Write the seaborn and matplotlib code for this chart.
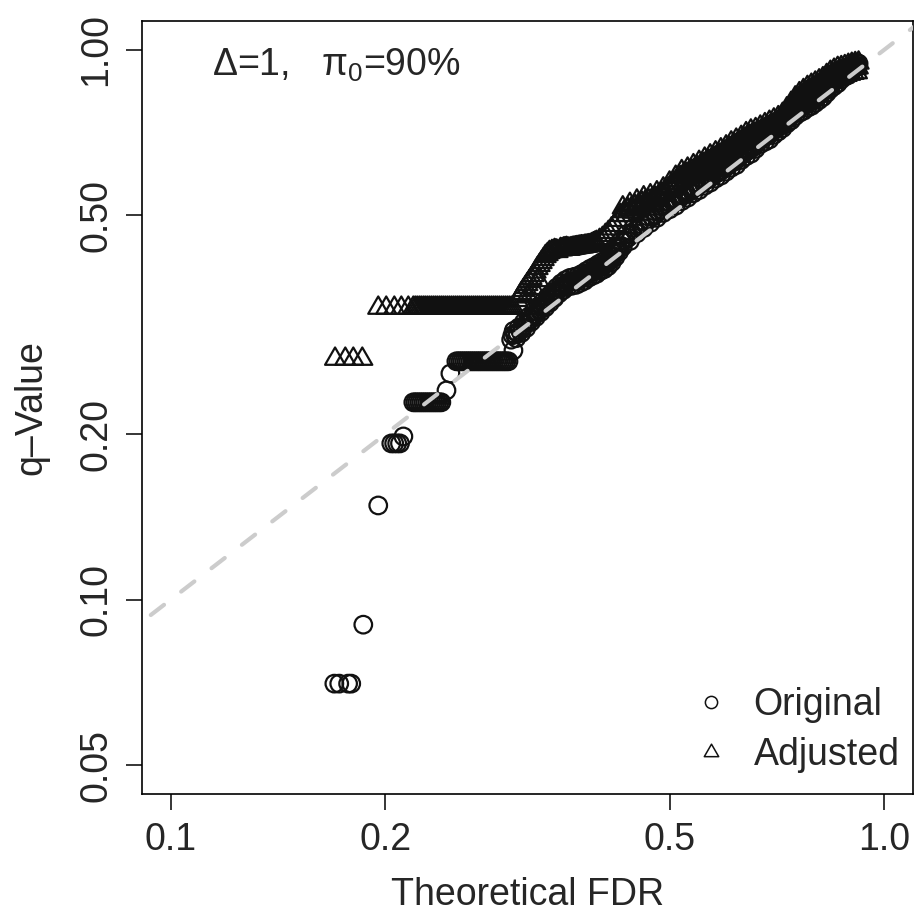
import numpy as np
import pandas as pd
import matplotlib
matplotlib.use("Agg")
import matplotlib.pyplot as plt
import seaborn as sns
from matplotlib.path import Path
from matplotlib.lines import Line2D
from matplotlib.ticker import NullLocator

# ---------------- data ----------------
series_names = ["Original", "Adjusted"]
x_ticks = [0.1, 0.2, 0.5, 1.0]
x_tick_labels = ["0.1", "0.2", "0.5", "1.0"]
y_ticks = [0.05, 0.10, 0.20, 0.50, 1.00]
y_tick_labels = ["0.05", "0.10", "0.20", "0.50", "1.00"]
x_label = "Theoretical FDR"
y_label = "q\u2013Value"
annotation = r"$\Delta$=1,   $\pi_0$=90%"

# ---- Original: isolated points and tied runs at small FDR ----
orig_fdr_sparse = [0.1696, 0.1723, 0.1773, 0.1791, 0.1862, 0.1954,
                   0.2038, 0.2057, 0.2077, 0.2096, 0.2119,
                   0.2188, 0.2202, 0.2216, 0.2231, 0.2245, 0.2260, 0.2274, 0.2289,
                   0.2304, 0.2319, 0.2334, 0.2349, 0.2364, 0.2380, 0.2395,
                   0.2435, 0.2466,
                   0.2514, 0.2530, 0.2547, 0.2563, 0.2580, 0.2597, 0.2613, 0.2630,
                   0.2647, 0.2664, 0.2682, 0.2699, 0.2716, 0.2734, 0.2752, 0.2770,
                   0.2788, 0.2806, 0.2824, 0.2842, 0.2861, 0.2879, 0.2898, 0.2917,
                   0.2935, 0.2954, 0.2974, 0.3022]
orig_q_sparse = [0.0704, 0.0704, 0.0704, 0.0704, 0.0901, 0.1484,
                 0.1924, 0.1924, 0.1924, 0.1924, 0.1981,
                 0.2285, 0.2285, 0.2285, 0.2285, 0.2285, 0.2285, 0.2285, 0.2285,
                 0.2285, 0.2285, 0.2285, 0.2285, 0.2285, 0.2285, 0.2285,
                 0.2402, 0.2578,
                 0.2713, 0.2713, 0.2713, 0.2713, 0.2713, 0.2713, 0.2713, 0.2713,
                 0.2713, 0.2713, 0.2713, 0.2713, 0.2713, 0.2713, 0.2713, 0.2713,
                 0.2713, 0.2713, 0.2713, 0.2713, 0.2713, 0.2713, 0.2713, 0.2713,
                 0.2713, 0.2713, 0.2713, 0.2840]

# ---- Original: dense band, lower edge ----
orig_fdr_band_a = [0.300, 0.305, 0.310, 0.315, 0.320, 0.325, 0.330, 0.335, 0.340, 0.345,
                   0.350, 0.355, 0.360, 0.365, 0.370, 0.375, 0.380, 0.385, 0.390, 0.395,
                   0.400, 0.405, 0.410, 0.415, 0.420, 0.425,
                   0.43, 0.44, 0.45, 0.46, 0.47, 0.48, 0.49, 0.50, 0.51, 0.52,
                   0.53, 0.54, 0.55, 0.56, 0.57, 0.58, 0.59, 0.60, 0.61, 0.62,
                   0.63, 0.64, 0.65, 0.66, 0.67, 0.68, 0.69, 0.70, 0.71, 0.72,
                   0.73, 0.74, 0.75, 0.76, 0.77, 0.78, 0.79, 0.80, 0.81, 0.82,
                   0.83, 0.84, 0.85, 0.86, 0.87, 0.88, 0.89, 0.90, 0.91, 0.92]
orig_q_band_a = [0.2970, 0.2989, 0.3054, 0.3119, 0.3200, 0.3266, 0.3333, 0.3400, 0.3468, 0.3536,
                 0.3605, 0.3657, 0.3708, 0.3723, 0.3737, 0.3769, 0.3800, 0.3850, 0.3881, 0.3911,
                 0.3960, 0.3989, 0.4039, 0.4109, 0.4200, 0.4293,
                 0.4386, 0.4488, 0.4635, 0.4738, 0.4841, 0.4944, 0.5047, 0.5125, 0.5202, 0.5304,
                 0.5380, 0.5481, 0.5555, 0.5656, 0.5729, 0.5829, 0.5900, 0.6000, 0.6100, 0.6169,
                 0.6300, 0.6400, 0.6468, 0.6600, 0.6734, 0.6800, 0.6866, 0.7000, 0.7100, 0.7200,
                 0.7337, 0.7437, 0.7575, 0.7676, 0.7739, 0.7839, 0.7900, 0.8000, 0.8100, 0.8200,
                 0.8342, 0.8484, 0.8585, 0.8686, 0.8831, 0.8932, 0.8989, 0.9135, 0.9282, 0.9430]

# ---- Original: dense band, upper edge ----
orig_fdr_band_b = [0.3025, 0.3075, 0.3125, 0.3175, 0.3225, 0.3275, 0.3325, 0.3375, 0.3425, 0.3475,
                   0.3525, 0.3575, 0.3625, 0.3675, 0.3725, 0.3775, 0.3825, 0.3875, 0.3925, 0.3975,
                   0.4025, 0.4075, 0.4125, 0.4175, 0.4225, 0.4275,
                   0.435, 0.445, 0.455, 0.465, 0.475, 0.485, 0.495, 0.505, 0.515, 0.525,
                   0.535, 0.545, 0.555, 0.565, 0.575, 0.585, 0.595, 0.605, 0.615, 0.625,
                   0.635, 0.645, 0.655, 0.665, 0.675, 0.685, 0.695, 0.705, 0.715, 0.725,
                   0.735, 0.745, 0.755, 0.765, 0.775, 0.785, 0.795, 0.805, 0.815, 0.825,
                   0.835, 0.845, 0.855, 0.865, 0.875, 0.885, 0.895, 0.905, 0.915]
orig_q_band_b = [0.3083, 0.3125, 0.3194, 0.3270, 0.3344, 0.3413, 0.3482, 0.3553, 0.3624, 0.3694,
                 0.3758, 0.3811, 0.3846, 0.3862, 0.3882, 0.3915, 0.3959, 0.3999, 0.4031, 0.4074,
                 0.4113, 0.4152, 0.4216, 0.4300, 0.4394, 0.4489,
                 0.4615, 0.4744, 0.4873, 0.4980, 0.5087, 0.5194, 0.5290, 0.5370, 0.5463, 0.5556,
                 0.5647, 0.5739, 0.5830, 0.5920, 0.6010, 0.6099, 0.6188, 0.6292, 0.6380, 0.6484,
                 0.6604, 0.6691, 0.6795, 0.6933, 0.7038, 0.7106, 0.7210, 0.7332, 0.7436, 0.7559,
                 0.7682, 0.7806, 0.7931, 0.8016, 0.8100, 0.8184, 0.8268, 0.8372, 0.8476, 0.8601,
                 0.8749, 0.8876, 0.8981, 0.9108, 0.9237, 0.9250, 0.9320, 0.9400, 0.9450]

# ---- Original: dense band, middle (first set) ----
orig_fdr_band_c = [0.30125, 0.30625, 0.31125, 0.31625, 0.32125, 0.32625, 0.33125, 0.33625,
                   0.34125, 0.34625, 0.35125, 0.35625, 0.36125, 0.36625, 0.37125, 0.37625,
                   0.38125, 0.38625, 0.39125, 0.39625, 0.40125, 0.40625, 0.41125, 0.41625,
                   0.42125, 0.42625,
                   0.4325, 0.4425, 0.4525, 0.4625, 0.4725, 0.4825, 0.4925, 0.5025, 0.5125, 0.5225,
                   0.5325, 0.5425, 0.5525, 0.5625, 0.5725, 0.5825, 0.5925, 0.6025, 0.6125, 0.6225,
                   0.6325, 0.6425, 0.6525, 0.6625, 0.6725, 0.6825, 0.6925, 0.7025, 0.7125, 0.7225,
                   0.7325, 0.7425, 0.7525, 0.7625, 0.7725, 0.7825, 0.7925, 0.8025, 0.8125, 0.8225,
                   0.8325, 0.8425, 0.8525, 0.8625, 0.8725, 0.8825, 0.8925, 0.9025, 0.9125]
orig_q_band_c = [0.3027, 0.3057, 0.3124, 0.3195, 0.3272, 0.3340, 0.3408, 0.3477,
                 0.3546, 0.3615, 0.3682, 0.3734, 0.3777, 0.3793, 0.3810, 0.3842,
                 0.3880, 0.3925, 0.3956, 0.3993, 0.4037, 0.4071, 0.4128, 0.4205,
                 0.4297, 0.4391,
                 0.4501, 0.4616, 0.4754, 0.4859, 0.4964, 0.5069, 0.5169, 0.5248, 0.5333, 0.5430,
                 0.5514, 0.5610, 0.5693, 0.5788, 0.5870, 0.5964, 0.6044, 0.6146, 0.6240, 0.6327,
                 0.6452, 0.6546, 0.6632, 0.6767, 0.6886, 0.6953, 0.7038, 0.7166, 0.7268, 0.7380,
                 0.7510, 0.7622, 0.7753, 0.7846, 0.7920, 0.8012, 0.8084, 0.8186, 0.8288, 0.8401,
                 0.8546, 0.8680, 0.8783, 0.8897, 0.9034, 0.9091, 0.9155, 0.9268, 0.9366]

# ---- Original: dense band, middle (second set) ----
orig_fdr_band_d = [0.30375, 0.30875, 0.31375, 0.31875, 0.32375, 0.32875, 0.33375, 0.33875,
                   0.34375, 0.34875, 0.35375, 0.35875, 0.36375, 0.36875, 0.37375, 0.37875,
                   0.38375, 0.38875, 0.39375, 0.39875, 0.40375, 0.40875, 0.41375, 0.41875,
                   0.42375,
                   0.4375, 0.4475, 0.4575, 0.4675, 0.4775, 0.4875, 0.4975, 0.5075, 0.5175, 0.5275,
                   0.5375, 0.5475, 0.5575, 0.5675, 0.5775, 0.5875, 0.5975, 0.6075, 0.6175, 0.6275,
                   0.6375, 0.6475, 0.6575, 0.6675, 0.6775, 0.6875, 0.6975, 0.7075, 0.7175, 0.7275,
                   0.7375, 0.7475, 0.7575, 0.7675, 0.7775, 0.7875, 0.7975, 0.8075, 0.8175, 0.8275,
                   0.8375, 0.8475, 0.8575, 0.8675, 0.8775, 0.8875, 0.8975, 0.9075, 0.9175]
orig_q_band_d = [0.3036, 0.3090, 0.3157, 0.3235, 0.3305, 0.3373, 0.3441, 0.3511,
                 0.3580, 0.3650, 0.3708, 0.3760, 0.3785, 0.3800, 0.3826, 0.3858,
                 0.3905, 0.3940, 0.3971, 0.4017, 0.4051, 0.4096, 0.4163, 0.4250,
                 0.4344,
                 0.4552, 0.4690, 0.4806, 0.4911, 0.5016, 0.5121, 0.5208, 0.5286, 0.5384, 0.5468,
                 0.5564, 0.5647, 0.5743, 0.5825, 0.5920, 0.6000, 0.6094, 0.6196, 0.6275, 0.6392,
                 0.6502, 0.6580, 0.6698, 0.6834, 0.6919, 0.6986, 0.7105, 0.7216, 0.7318, 0.7448,
                 0.7560, 0.7691, 0.7804, 0.7878, 0.7970, 0.8042, 0.8134, 0.8236, 0.8338, 0.8472,
                 0.8617, 0.8731, 0.8834, 0.8970, 0.9085, 0.9120, 0.9228, 0.9341, 0.9440]

# ---- Adjusted: tied runs at small FDR ----
adj_fdr_ties = [0.1700, 0.1757, 0.1803, 0.1856,
                0.1954, 0.2005, 0.2058, 0.2105, 0.2153,
                0.2188, 0.2202, 0.2216, 0.2231, 0.2245, 0.2260, 0.2274, 0.2289, 0.2304, 0.2319,
                0.2334, 0.2349, 0.2364, 0.2380, 0.2395, 0.2410, 0.2426, 0.2442, 0.2458, 0.2474,
                0.2490, 0.2506, 0.2522, 0.2538, 0.2554, 0.2571, 0.2588, 0.2605, 0.2622, 0.2639,
                0.2656, 0.2673, 0.2690, 0.2707, 0.2725, 0.2743, 0.2761, 0.2779, 0.2797, 0.2815,
                0.2833, 0.2851, 0.2869, 0.2888, 0.2907, 0.2926, 0.2945, 0.2964, 0.2983, 0.3002,
                0.3022]
adj_q_ties = [0.2739, 0.2739, 0.2739, 0.2739,
              0.3391, 0.3391, 0.3391, 0.3391, 0.3391,
              0.3391, 0.3391, 0.3391, 0.3391, 0.3391, 0.3391, 0.3391, 0.3391, 0.3391, 0.3391,
              0.3391, 0.3391, 0.3391, 0.3391, 0.3391, 0.3391, 0.3391, 0.3391, 0.3391, 0.3391,
              0.3391, 0.3391, 0.3391, 0.3391, 0.3391, 0.3391, 0.3391, 0.3391, 0.3391, 0.3391,
              0.3391, 0.3391, 0.3391, 0.3391, 0.3391, 0.3391, 0.3391, 0.3391, 0.3391, 0.3391,
              0.3391, 0.3391, 0.3391, 0.3391, 0.3391, 0.3391, 0.3391, 0.3391, 0.3391, 0.3391,
              0.3391]

# ---- Adjusted: rising branch and shoulder ----
adj_fdr_rise = [0.3062, 0.3082, 0.3101, 0.3121, 0.3141, 0.3161, 0.3162, 0.3182, 0.3203, 0.3224,
                0.3224, 0.3245, 0.3266, 0.3276, 0.3288, 0.3309, 0.3331, 0.3352, 0.3374, 0.3395,
                0.3422, 0.3450, 0.3467, 0.3484, 0.3518, 0.3535, 0.3552, 0.3570, 0.3587, 0.3604,
                0.3621, 0.3639, 0.3656, 0.3673, 0.3691, 0.3709, 0.3727, 0.3745, 0.3763, 0.3781,
                0.3800, 0.3818, 0.3837, 0.3855, 0.3874, 0.3893, 0.3912, 0.3931, 0.3950, 0.3990,
                0.4029, 0.4067, 0.4106, 0.4147, 0.4188, 0.4228, 0.4268]
adj_q_rise = [0.3503, 0.3555, 0.3607, 0.3652, 0.3698, 0.3745, 0.3577, 0.3792, 0.3840, 0.3888,
              0.3684, 0.3946, 0.4004, 0.3807, 0.4055, 0.4106, 0.4158, 0.4210, 0.4245, 0.4281,
              0.4299, 0.4317, 0.4310, 0.4300, 0.4335, 0.4330, 0.4345, 0.4350, 0.4355, 0.4345,
              0.4340, 0.4350, 0.4355, 0.4360, 0.4365, 0.4370, 0.4374, 0.4380, 0.4385, 0.4383,
              0.4392, 0.4396, 0.4400, 0.4405, 0.4410, 0.4425, 0.4440, 0.4453, 0.4466, 0.4503,
              0.4541, 0.4599, 0.4657, 0.4726, 0.4795, 0.4897, 0.5000]

# ---- Adjusted: dense band, upper edge ----
adj_fdr_band_a = [0.43, 0.44, 0.45, 0.46, 0.47, 0.48, 0.49, 0.50, 0.51, 0.52,
                  0.53, 0.54, 0.55, 0.56, 0.57, 0.58, 0.59, 0.60, 0.61, 0.62,
                  0.63, 0.64, 0.65, 0.66, 0.67, 0.68, 0.69, 0.70, 0.71, 0.72,
                  0.73, 0.74, 0.75, 0.76, 0.77, 0.78, 0.79, 0.80, 0.81, 0.82,
                  0.83, 0.84, 0.85, 0.86, 0.87, 0.88, 0.89, 0.90, 0.91, 0.92]
adj_q_band_a = [0.5160, 0.5236, 0.5310, 0.5382, 0.5429, 0.5496, 0.5586, 0.5725, 0.5865, 0.6006,
                0.6069, 0.6156, 0.6243, 0.6328, 0.6413, 0.6496, 0.6579, 0.6660, 0.6771, 0.6851,
                0.6930, 0.7040, 0.7118, 0.7161, 0.7236, 0.7310, 0.7383, 0.7455, 0.7526, 0.7632,
                0.7811, 0.7992, 0.8175, 0.8322, 0.8432, 0.8541, 0.8620, 0.8700, 0.8780, 0.8860,
                0.8980, 0.9100, 0.9180, 0.9250, 0.9280, 0.9320, 0.9370, 0.9410, 0.9440, 0.9460]

# ---- Adjusted: dense band, lower edge ----
adj_fdr_band_b = [0.435, 0.445, 0.455, 0.465, 0.475, 0.485, 0.495, 0.505, 0.515, 0.525,
                  0.535, 0.545, 0.555, 0.565, 0.575, 0.585, 0.595, 0.605, 0.615, 0.625,
                  0.635, 0.645, 0.655, 0.665, 0.675, 0.685, 0.695, 0.705, 0.715, 0.725,
                  0.735, 0.745, 0.755, 0.765, 0.775, 0.785, 0.795, 0.805, 0.815, 0.825,
                  0.835, 0.845, 0.855, 0.865, 0.875, 0.885, 0.895, 0.905, 0.915]
adj_q_band_b = [0.4998, 0.5070, 0.5140, 0.5198, 0.5252, 0.5328, 0.5438, 0.5572, 0.5707, 0.5805,
                0.5877, 0.5961, 0.6044, 0.6126, 0.6206, 0.6286, 0.6365, 0.6457, 0.6549, 0.6626,
                0.6716, 0.6807, 0.6865, 0.6922, 0.6993, 0.7064, 0.7134, 0.7203, 0.7288, 0.7425,
                0.7598, 0.7773, 0.7931, 0.8055, 0.8160, 0.8250, 0.8327, 0.8404, 0.8481, 0.8577,
                0.8692, 0.8788, 0.8861, 0.8909, 0.8942, 0.8986, 0.9029, 0.9063, 0.9087]

# ---- Adjusted: dense band, middle (first set) ----
adj_fdr_band_c = [0.4325, 0.4425, 0.4525, 0.4625, 0.4725, 0.4825, 0.4925, 0.5025, 0.5125, 0.5225,
                  0.5325, 0.5425, 0.5525, 0.5625, 0.5725, 0.5825, 0.5925, 0.6025, 0.6125, 0.6225,
                  0.6325, 0.6425, 0.6525, 0.6625, 0.6725, 0.6825, 0.6925, 0.7025, 0.7125, 0.7225,
                  0.7325, 0.7425, 0.7525, 0.7625, 0.7725, 0.7825, 0.7925, 0.8025, 0.8125, 0.8225,
                  0.8325, 0.8425, 0.8525, 0.8625, 0.8725, 0.8825, 0.8925, 0.9025, 0.9125]
adj_q_band_c = [0.5079, 0.5153, 0.5225, 0.5290, 0.5341, 0.5412, 0.5512, 0.5649, 0.5786, 0.5906,
                0.5973, 0.6059, 0.6144, 0.6227, 0.6310, 0.6391, 0.6472, 0.6559, 0.6660, 0.6739,
                0.6823, 0.6924, 0.6992, 0.7042, 0.7115, 0.7187, 0.7259, 0.7329, 0.7407, 0.7529,
                0.7705, 0.7883, 0.8053, 0.8189, 0.8296, 0.8396, 0.8474, 0.8552, 0.8631, 0.8719,
                0.8836, 0.8944, 0.9021, 0.9080, 0.9111, 0.9153, 0.9200, 0.9237, 0.9264]

# ---- Adjusted: dense band, middle (second set) ----
adj_fdr_band_d = [0.4375, 0.4475, 0.4575, 0.4675, 0.4775, 0.4875, 0.4975, 0.5075, 0.5175, 0.5275,
                  0.5375, 0.5475, 0.5575, 0.5675, 0.5775, 0.5875, 0.5975, 0.6075, 0.6175, 0.6275,
                  0.6375, 0.6475, 0.6575, 0.6675, 0.6775, 0.6875, 0.6975, 0.7075, 0.7175, 0.7275,
                  0.7375, 0.7475, 0.7575, 0.7675, 0.7775, 0.7875, 0.7975, 0.8075, 0.8175, 0.8275,
                  0.8375, 0.8475, 0.8575, 0.8675, 0.8775, 0.8875, 0.8975, 0.9075, 0.9175]
adj_q_band_d = [0.5117, 0.5190, 0.5261, 0.5314, 0.5374, 0.5457, 0.5582, 0.5719, 0.5857, 0.5937,
                0.6017, 0.6102, 0.6186, 0.6270, 0.6351, 0.6433, 0.6513, 0.6614, 0.6700, 0.6778,
                0.6878, 0.6963, 0.7013, 0.7079, 0.7152, 0.7224, 0.7295, 0.7365, 0.7460, 0.7618,
                0.7795, 0.7974, 0.8127, 0.8244, 0.8351, 0.8435, 0.8514, 0.8592, 0.8671, 0.8779,
                0.8896, 0.8984, 0.9056, 0.9095, 0.9131, 0.9178, 0.9220, 0.9252, 0.9274]

# ---------------- plotting ----------------
sns.set_style("white")
plt.rcParams["font.family"] = ["Liberation Sans", "DejaVu Sans"]
plt.rcParams["mathtext.fontset"] = "custom"
plt.rcParams["mathtext.rm"] = "Liberation Sans"
plt.rcParams["mathtext.it"] = "Liberation Sans"
plt.rcParams["mathtext.sf"] = "Liberation Sans"

W = 916.0
fig = plt.figure(figsize=(9.16, 9.16), dpi=100)
ax = fig.add_axes([142 / W, 1 - 794 / W, 771 / W, 773 / W])

df_orig = pd.DataFrame({
    "fdr": orig_fdr_sparse + orig_fdr_band_a + orig_fdr_band_b + orig_fdr_band_c + orig_fdr_band_d,
    "q": orig_q_sparse + orig_q_band_a + orig_q_band_b + orig_q_band_c + orig_q_band_d,
})
df_adj = pd.DataFrame({
    "fdr": adj_fdr_ties + adj_fdr_rise + adj_fdr_band_a + adj_fdr_band_b + adj_fdr_band_c + adj_fdr_band_d,
    "q": adj_q_ties + adj_q_rise + adj_q_band_a + adj_q_band_b + adj_q_band_c + adj_q_band_d,
})

tri = Path([(0, 1), (-0.8660254, -0.5), (0.8660254, -0.5), (0, 1)],
           [Path.MOVETO, Path.LINETO, Path.LINETO, Path.CLOSEPOLY])

ink = "#111111"
sns.scatterplot(data=df_orig, x="fdr", y="q", marker="o", s=160,
                facecolor="none", edgecolor=ink, linewidth=1.6,
                ax=ax, legend=False, zorder=2)
sns.scatterplot(data=df_adj, x="fdr", y="q", marker=tri, s=277,
                facecolor="none", edgecolor=ink, linewidth=1.6,
                ax=ax, legend=False, zorder=3)

ax.set_xscale("log")
ax.set_yscale("log")
ax.set_xlim(10 ** -1.04, 10 ** 0.04)
ax.set_ylim(10 ** (np.log10(0.05) - 0.052), 10 ** 0.052)

# identity reference line
diag = [0.01, 2.0]
ln, = ax.plot(diag, diag, color="#cccccc", lw=3.0, zorder=5,
              dash_capstyle="round", solid_capstyle="round")
ln.set_dashes((4.0, 5.2))

ax.set_xticks(x_ticks)
ax.set_xticklabels(x_tick_labels)
ax.set_yticks(y_ticks)
ax.set_yticklabels(y_tick_labels)
ax.xaxis.set_minor_locator(NullLocator())
ax.yaxis.set_minor_locator(NullLocator())
ax.tick_params(axis="both", which="major", direction="out", length=11.5,
               width=1.1, color="black", labelsize=27, pad=8.5,
               bottom=True, left=True, top=False, right=False)
ax.tick_params(axis="y", labelrotation=90)
for lbl in ax.get_yticklabels():
    lbl.set_va("center")

for sp in ax.spines.values():
    sp.set_visible(True)
    sp.set_color("black")
    sp.set_linewidth(1.2)

ax.set_xlabel(x_label, fontsize=27)
ax.set_ylabel(y_label, fontsize=27)
ax.xaxis.set_label_coords(0.5, -0.108)
ax.yaxis.set_label_coords(-0.120, 0.5)

ax.text(0.0908, 0.9288, annotation, transform=ax.transAxes, fontsize=27,
        ha="left", va="baseline")

h1 = Line2D([], [], ls="none", marker="o", ms=8.8, mfc="none", mec=ink, mew=1.1)
h2 = Line2D([], [], ls="none", marker=tri, ms=12.0, mfc="none", mec=ink, mew=1.1)
ax.legend([h1, h2], series_names, loc="upper left",
          bbox_to_anchor=(692 / W, 1 - 687 / W), bbox_transform=fig.transFigure,
          frameon=False, fontsize=27, handlelength=1.0, handletextpad=0.64,
          borderpad=0, borderaxespad=0, labelspacing=0.38)

fig.savefig("out.png", dpi=100)
